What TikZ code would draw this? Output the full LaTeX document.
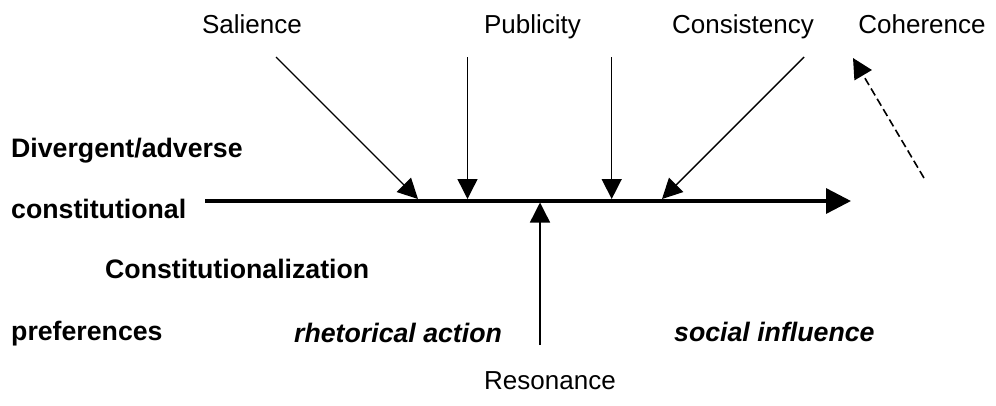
\documentclass[tikz,border=0pt]{standalone}
\usepackage{fontspec}
\setmainfont{Liberation Sans}
\usetikzlibrary{arrows.meta}
\begin{document}
\begin{tikzpicture}[x=1pt,y=-1pt,
  lbl/.style={inner sep=0pt,anchor=base,font=\fontsize{26}{30}\selectfont},
  blbl/.style={inner sep=0pt,anchor=base west,font=\fontsize{26.7}{30}\selectfont\bfseries},
  ilbl/.style={inner sep=0pt,anchor=base west,font=\fontsize{26.7}{30}\selectfont\bfseries\itshape},
  thin arrow/.style={line width=1.4pt,-{Triangle[length=20pt,width=20pt]}},
  main arrow/.style={line width=3.4pt,-{Triangle[length=25pt,width=25pt]}},
  dash arrow/.style={line width=1.6pt,dash pattern=on 8pt off 4pt,-{Triangle[length=20pt,width=20pt]}}]
\useasboundingbox (0,0) rectangle (996,405);
% top labels
\node[lbl] (sal) at (252,33) {Salience};
\node[lbl] (pub) at (532.5,33) {Publicity};
\node[lbl] (con) at (743,33) {Consistency};
\node[lbl] (coh) at (922,33) {Coherence};
% left labels
\node[blbl] (div) at (11,157) {Divergent/adverse};
\node[blbl] (cst) at (11,218) {constitutional};
\node[blbl] (czn) at (105,278) {Constitutionalization};
\node[blbl] (pref) at (11,340) {preferences};
\node[ilbl] (rhet) at (294,342) {rhetorical action};
\node[ilbl] (soc) at (674,341) {social influence};
\node[lbl,anchor=base west] (res) at (484,389) {Resonance};
% coordinates
\coordinate (mainS) at (205,201);
\coordinate (mainE) at (851,201);
\coordinate (salS) at (276,57);
\coordinate (salE) at (418,199);
\coordinate (pubS) at (467.5,57);
\coordinate (pubE) at (467.5,199);
\coordinate (conS) at (611.7,57);
\coordinate (conE) at (611.7,199);
\coordinate (cohS) at (804,57);
\coordinate (cohE) at (662,199);
\coordinate (resS) at (540,345);
\coordinate (resE) at (540,202.5);
\coordinate (dS) at (924,178);
\coordinate (dE) at (853,58);
% connectors
\draw[main arrow] (mainS) -- (mainE);
\draw[thin arrow] (salS) -- (salE);
\draw[thin arrow] (pubS) -- (pubE);
\draw[thin arrow] (conS) -- (conE);
\draw[thin arrow] (cohS) -- (cohE);
\draw[thin arrow] (resS) -- (resE);
\draw[dash arrow] (dS) -- (dE);
\end{tikzpicture}
\end{document}
